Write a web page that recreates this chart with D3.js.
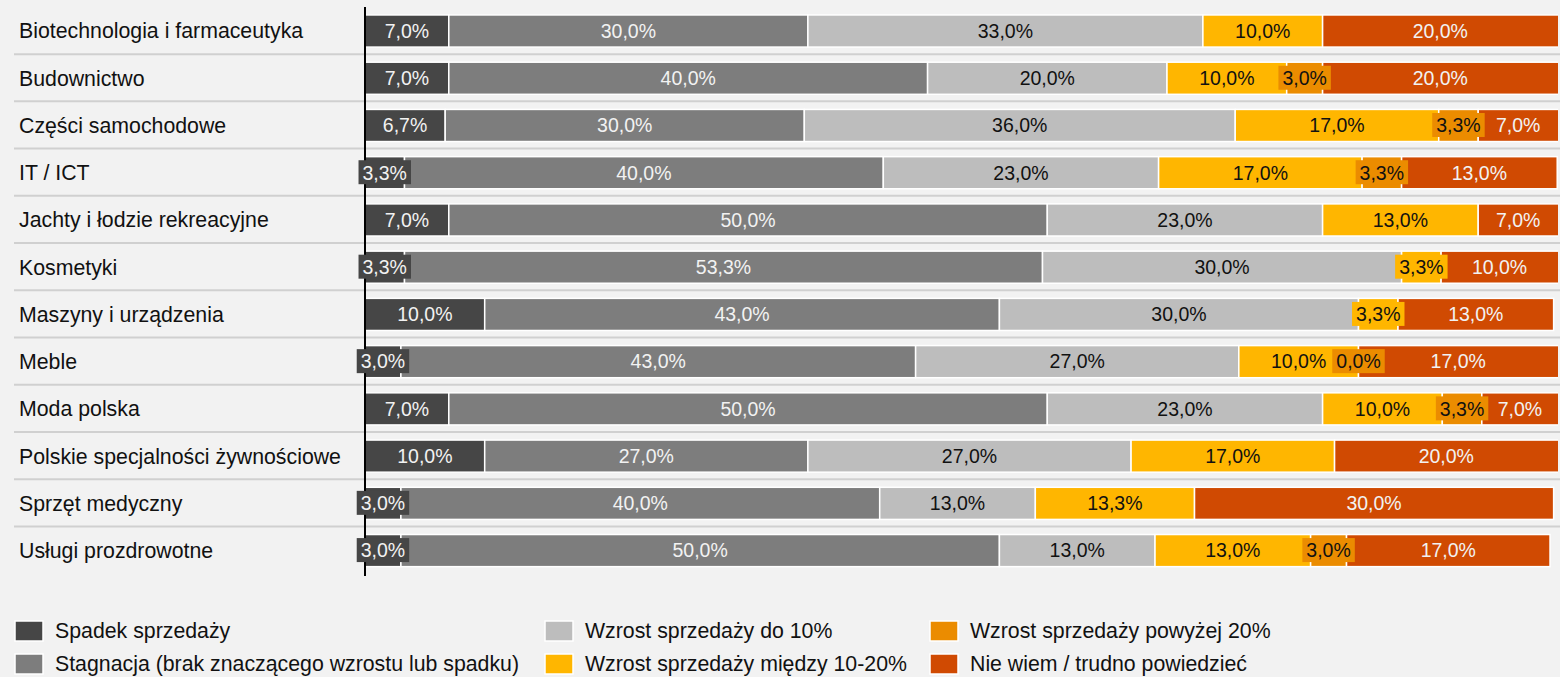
<!DOCTYPE html>
<html><head><meta charset="utf-8">
<script src="https://cdn.jsdelivr.net/npm/d3@7"></script>
<style>
html,body{margin:0;padding:0;background:#f2f2f2;}
svg{display:block;font-family:"Liberation Sans",Arial,sans-serif;}
</style></head>
<body><svg id="chart" width="1560" height="677"></svg>
<script>
const categories = ["Biotechnologia i farmaceutyka","Budownictwo","Części samochodowe","IT / ICT","Jachty i łodzie rekreacyjne","Kosmetyki","Maszyny i urządzenia","Meble","Moda polska","Polskie specjalności żywnościowe","Sprzęt medyczny","Usługi prozdrowotne"];
const seriesNames = ["Spadek sprzedaży","Stagnacja (brak znaczącego wzrostu lub spadku)","Wzrost sprzedaży do 10%","Wzrost sprzedaży między 10-20%","Wzrost sprzedaży powyżej 20%","Nie wiem / trudno powiedzieć"];
const spadek     = [7, 7, 6.7, 3.3, 7, 3.3, 10, 3, 7, 10, 3, 3];
const stagnacja  = [30, 40, 30, 40, 50, 53.3, 43, 43, 50, 27, 40, 50];
const wzrost10   = [33, 20, 36, 23, 23, 30, 30, 27, 23, 27, 13, 13];
const wzrost1020 = [10, 10, 17, 17, 13, 3.3, 3.3, 10, 10, 17, 13.3, 13];
const wzrost20   = [null, 3, 3.3, 3.3, null, null, null, 0, 3.3, null, null, 3];
const nieWiem    = [20, 20, 7, 13, 7, 10, 13, 17, 7, 20, 30, 17];
const seriesValues = [spadek, stagnacja, wzrost10, wzrost1020, wzrost20, nieWiem];
const colors = ["#464646","#7d7d7d","#bdbdbd","#ffb600","#eb8c00","#d04a02"];
const textColors = ["#f2f2f2","#f2f2f2","#111111","#111111","#111111","#f2f2f2"];

const svg = d3.select("#chart");
const x = d3.scaleLinear().domain([0,100]).range([365,1562]);
const y = d3.scaleBand().domain(categories).range([7.4,574.2]).paddingInner(0.32).paddingOuter(0.16);
const fmt = v => d3.format(".1f")(v).replace(".", ",") + "%";

svg.append("defs").append("clipPath").attr("id","clip")
  .append("rect").attr("x",x(0)).attr("y",0).attr("width",1558-x(0)).attr("height",677);

// separators
const gap = y.step() - y.bandwidth();
svg.append("g").selectAll("line").data(categories.slice(1)).join("line")
  .attr("x1",14).attr("x2",1560)
  .attr("y1",d=>y(d)-gap/2-0.5).attr("y2",d=>y(d)-gap/2-0.5)
  .attr("stroke","#d0d0d0").attr("stroke-width",2);

// category labels
svg.append("g").selectAll("text").data(categories).join("text")
  .attr("x",19).attr("y",d=>y(d)+y.bandwidth()/2).attr("dy","0.35em")
  .attr("font-size",21.3).attr("fill","#111").text(d=>d);

// build segments
const segs = [];
categories.forEach((c,i)=>{
  let acc = 0;
  seriesValues.forEach((arr,s)=>{
    const v = arr[i];
    if (v===null) return;
    segs.push({c, s, v, x0:acc, x1:acc+v});
    acc += v;
  });
});

const gBars = svg.append("g").attr("clip-path","url(#clip)");
gBars.selectAll("rect").data(segs.filter(d=>d.v>0)).join("rect")
  .attr("x",d=>x(d.x0)).attr("y",d=>y(d.c))
  .attr("width",d=>x(d.x1)-x(d.x0)).attr("height",y.bandwidth())
  .attr("fill",d=>colors[d.s]).attr("stroke","#ffffff").attr("stroke-width",1.5);

// axis line
svg.append("line").attr("x1",x(0)).attr("x2",x(0)).attr("y1",7).attr("y2",576)
  .attr("stroke","#000").attr("stroke-width",2);

// value labels
const gLab = svg.append("g");
segs.forEach(d=>{
  const cx = (x(d.x0)+Math.min(x(d.x1),1558))/2;
  const cy = y(d.c)+y.bandwidth()/2;
  const g = gLab.append("g");
  const t = g.append("text").attr("x",cx).attr("y",cy).attr("dy","0.35em")
    .attr("text-anchor","middle").attr("font-size",19.5)
    .attr("fill",textColors[d.s]).text(fmt(d.v));
  const w = t.node().getComputedTextLength();
  if (w + 4 > x(d.x1)-x(d.x0)) {
    g.insert("rect","text").attr("x",cx-w/2-4).attr("y",cy-12.5)
      .attr("width",w+8).attr("height",24).attr("fill",colors[d.s]);
  }
});

// legend
const legendPos = [[15,631],[15,664],[545,631],[545,664],[930,631],[930,664]];
const lg = svg.append("g").selectAll("g").data(seriesNames).join("g")
  .attr("transform",(d,i)=>`translate(${legendPos[i][0]},${legendPos[i][1]})`);
lg.append("rect").attr("x",0).attr("y",-10).attr("width",28).attr("height",20)
  .attr("fill",(d,i)=>colors[i]).attr("stroke","#fff").attr("stroke-width",1.5);
lg.append("text").attr("x",40).attr("y",0).attr("dy","0.35em")
  .attr("font-size",21.3).attr("fill","#111").text(d=>d);
</script></body></html>
